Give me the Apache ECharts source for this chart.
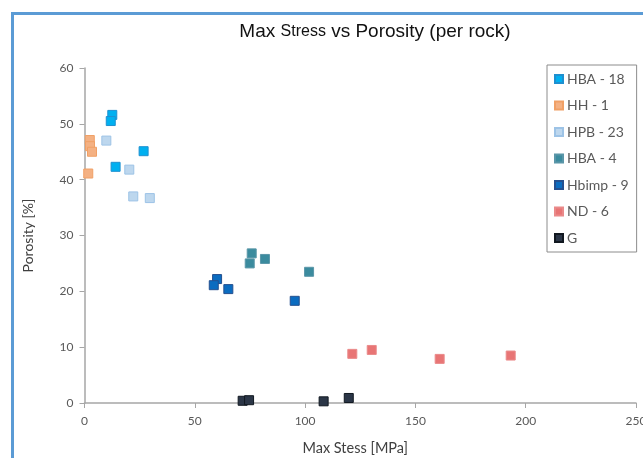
<!DOCTYPE html>
<html>
<head>
<meta charset="utf-8">
<script src="https://cdn.jsdelivr.net/npm/echarts@6/dist/echarts.min.js"></script>
<style>
  html, body { margin: 0; padding: 0; background: #ffffff; }
  #chart { width: 643px; height: 458px; }
</style>
</head>
<body>
<div id="chart"></div>
<script>
// Rock samples: [max stress (MPa), porosity (%)]
const hba18 = [[12.6, 51.6], [11.9, 50.5], [14.1, 42.3], [26.8, 45.1]];
const hh1 = [[2.4, 47.1], [2.5, 46.0], [3.4, 45.0], [1.7, 41.1]];
const hpb23 = [[9.9, 47.0], [20.3, 41.8], [22.1, 37.0], [29.6, 36.7]];
const hba4 = [[75.8, 26.8], [81.8, 25.8], [74.9, 25.0], [101.8, 23.5]];
const hbimp9 = [[60.1, 22.2], [58.6, 21.1], [65.2, 20.4], [95.3, 18.3]];
const nd6 = [[121.4, 8.8], [130.2, 9.5], [161.0, 7.9], [193.2, 8.5]];
const g = [[71.7, 0.4], [74.6, 0.5], [108.4, 0.3], [119.8, 0.9]];

const seriesNames = ['HBA - 18', 'HH - 1', 'HPB - 23', 'HBA - 4', 'Hbimp - 9', 'ND - 6', 'G'];
const seriesData = [hba18, hh1, hpb23, hba4, hbimp9, nd6, g];
const fills = ['#00b0f0', '#f4b183', '#bdd7ee', '#3b8b9e', '#0b6cc0', '#e87575', '#2b3647'];
const borders = ['#1e90d0', '#f0a066', '#9dc3e6', '#5a96a8', '#25508f', '#ea8a8a', '#111820'];

const labelFont = 'Lato, "Open Sans", sans-serif';

const chart = echarts.init(document.getElementById('chart'), null, { renderer: 'canvas' });

chart.setOption({
  animation: false,
  backgroundColor: '#ffffff',
  graphic: [{
    type: 'rect',
    shape: { x: 12.5, y: 13.5, width: 700, height: 600 },
    style: { fill: 'none', stroke: '#5b9bd5', lineWidth: 3 },
    silent: true,
    z: -1
  }],
  title: {
    text: '{a|Max }{b|Stress}{a| vs Porosity (per rock)}',
    left: 370,
    top: 17,
    textAlign: 'center',
    textStyle: {
      fontWeight: 'normal',
      rich: {
        a: { fontFamily: '"Liberation Sans", Arial, sans-serif', fontSize: 19, fontWeight: 'normal', color: '#111111' },
        b: { fontFamily: '"Liberation Sans", Arial, sans-serif', fontSize: 16, fontWeight: 'normal', color: '#111111' }
      }
    }
  },
  legend: {
    orient: 'vertical',
    left: 547,
    top: 65,
    width: 90,
    padding: [7, 8, 7, 7],
    itemGap: 12.5,
    itemWidth: 8,
    itemHeight: 8,
    borderColor: '#8c8c8c',
    borderWidth: 1,
    backgroundColor: '#ffffff',
    data: seriesNames.map(n => ({ name: n, icon: 'rect' })),
    textStyle: { fontFamily: labelFont, fontSize: 14, color: '#595959', lineHeight: 14, padding: [0, 0, 0, -1] }
  },
  grid: { left: 84.5, right: 7, top: 68, bottom: 55, containLabel: false, outerBoundsMode: 'none' },
  xAxis: {
    type: 'value',
    min: 0, max: 250, interval: 50,
    name: 'Max Stess [MPa]',
    nameLocation: 'middle',
    nameGap: 38,
    nameTextStyle: { fontFamily: labelFont, fontSize: 14.5, color: '#404040', padding: [0, 10, 0, 0] },
    axisLine: { show: true, lineStyle: { color: '#a6a6a6', width: 1.5 } },
    axisTick: { show: true, inside: false, length: 5, lineStyle: { color: '#a6a6a6' } },
    axisLabel: { margin: 12, fontFamily: labelFont, fontSize: 12, color: '#595959' },
    splitLine: { show: false }
  },
  yAxis: {
    type: 'value',
    min: 0, max: 60, interval: 10,
    name: 'Porosity [%]',
    nameLocation: 'middle',
    nameGap: 49,
    nameTextStyle: { fontFamily: labelFont, fontSize: 14, color: '#404040' },
    axisLine: { show: true, lineStyle: { color: '#a6a6a6', width: 1.5 } },
    axisTick: { show: true, inside: false, length: 5, lineStyle: { color: '#a6a6a6' } },
    axisLabel: { margin: 11, fontFamily: labelFont, fontSize: 12, color: '#595959' },
    splitLine: { show: false }
  },
  series: seriesNames.map((name, i) => ({
    name: name,
    type: 'scatter',
    symbol: 'rect',
    symbolSize: 9,
    data: seriesData[i],
    itemStyle: { color: fills[i], borderColor: borders[i], borderWidth: 1, opacity: 1 },
    emphasis: { disabled: true }
  }))
});
</script>
</body>
</html>
